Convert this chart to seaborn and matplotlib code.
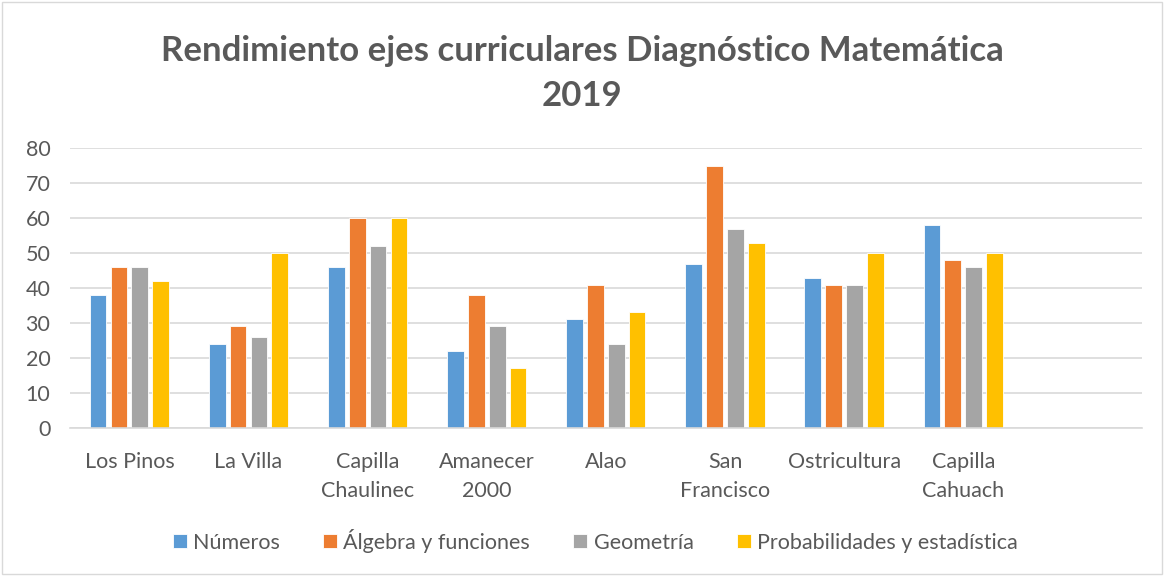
import pandas as pd
import numpy as np
import seaborn as sns
import matplotlib.pyplot as plt
from matplotlib.patches import Rectangle

# datos
escuelas = ['Los Pinos', 'La Villa', 'Capilla\nChaulinec', 'Amanecer\n2000', 'Alao',
            'San\nFrancisco', 'Ostricultura', 'Capilla\nCahuach']
ejes = ['Números', 'Álgebra y funciones', 'Geometría', 'Probabilidades y estadística']
numeros = [38, 24, 46, 22, 31, 47, 43, 58]
algebra = [46, 29, 60, 38, 41, 75, 41, 48]
geometria = [46, 26, 52, 29, 24, 57, 41, 46]
probabilidades = [42, 50, 60, 17, 33, 53, 50, 50]
colores = ['#5B9BD5', '#ED7D31', '#A5A5A5', '#FFC000']

df = pd.DataFrame({'Escuela': escuelas, ejes[0]: numeros, ejes[1]: algebra,
                   ejes[2]: geometria, ejes[3]: probabilidades})
df = df.melt(id_vars='Escuela', var_name='Eje', value_name='Rendimiento')

sns.set_style('white')
plt.rcParams['font.family'] = ['Lato', 'DejaVu Sans']

fig = plt.figure(figsize=(11.64, 5.76), dpi=100)
ax = fig.add_axes([0.060, 0.257, 0.921, 0.486])

orden = escuelas + [' ']
sns.barplot(data=df, x='Escuela', y='Rendimiento', hue='Eje', order=orden,
            hue_order=ejes, palette=colores, saturation=1, width=0.7, gap=0.2,
            edgecolor='white', linewidth=0.6, ax=ax)

ax.set_ylim(0, 80)
ax.set_xlim(-0.5, 8.5)
ax.set_yticks(range(0, 81, 10))
ax.yaxis.grid(True, color='#D9D9D9', linewidth=1.2)
ax.set_axisbelow(True)
for s in ['top', 'right', 'left']:
    ax.spines[s].set_visible(False)
ax.spines['bottom'].set_color('#D9D9D9')
ax.spines['bottom'].set_linewidth(1.2)
ax.tick_params(axis='both', length=0, labelsize=15.5, colors='#595959', pad=17)
ax.tick_params(axis='y', pad=14)
for lbl in ax.get_xticklabels():
    lbl.set_linespacing(1.6)
ax.set_xlabel('')
ax.set_ylabel('')

fig.text(0.5, 0.911, 'Rendimiento ejes curriculares Diagnóstico Matemática',
         ha='center', va='center', fontsize=25, fontweight='bold', color='#595959')
fig.text(0.5, 0.833, '2019',
         ha='center', va='center', fontsize=25, fontweight='bold', color='#595959')

leg = ax.legend(loc='upper center', bbox_to_anchor=(0.49, -0.29), ncol=4, frameon=False,
                fontsize=15.5, handlelength=0.65, handleheight=0.65, handletextpad=0.3,
                columnspacing=2.0)
for t in leg.get_texts():
    t.set_color('#595959')

fig.patches.append(Rectangle((0.002, 0.003), 0.996, 0.994, transform=fig.transFigure,
                             fill=False, edgecolor='#D9D9D9', linewidth=1))

plt.savefig('out.png', dpi=100)
